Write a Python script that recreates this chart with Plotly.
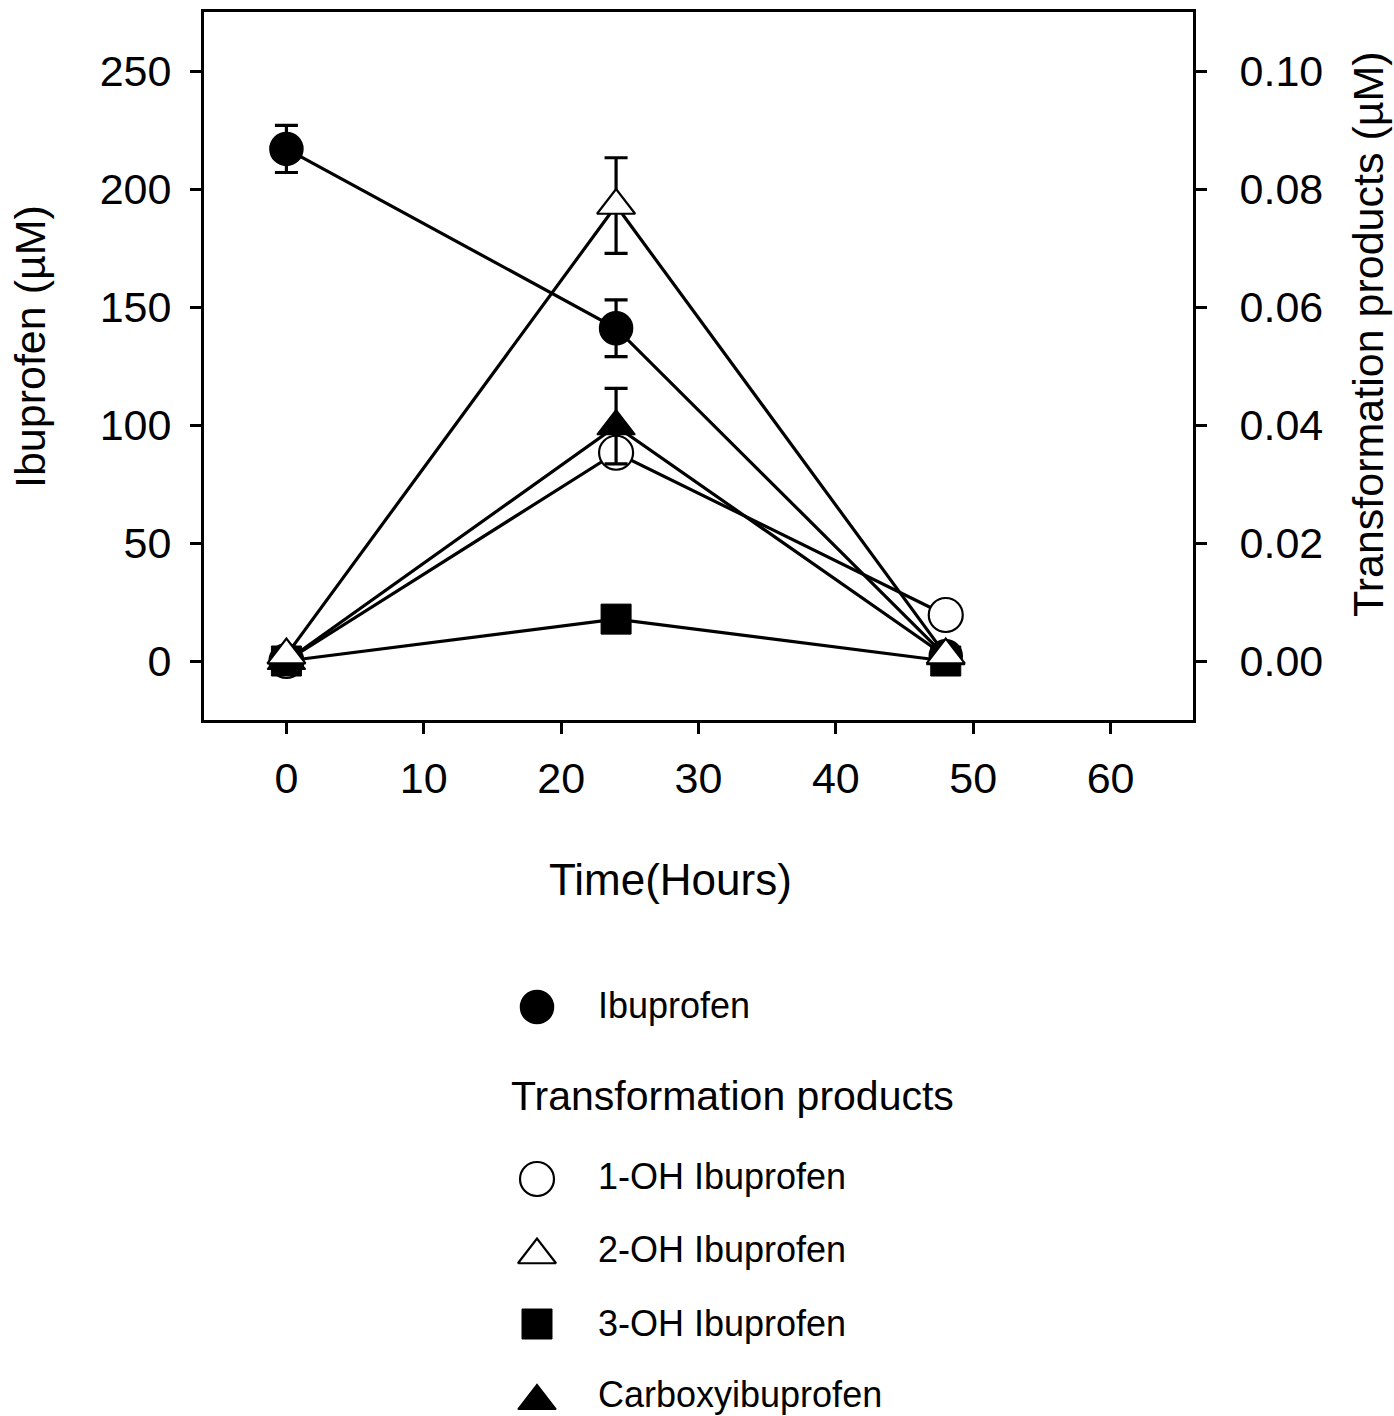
import plotly.graph_objects as go

# ---------------- data ----------------
time_h = [0, 24, 48]

ibuprofen = [217, 141, 2]          # µM (left axis)
ibuprofen_err = [10, 12, 0]

oh1 = [0.0, 0.0353, 0.0078]        # µM (right axis)
oh2 = [0.001, 0.0772, 0.001]
oh2_err = [0, 0.0081, 0]
oh3 = [0.0, 0.0071, 0.0]
carboxy = [0.0, 0.0398, 0.0008]
carboxy_err = [0, 0.0064, 0]

x_ticks = [0, 10, 20, 30, 40, 50, 60]
y_ticks = [0, 50, 100, 150, 200, 250]
y2_ticks = [0.00, 0.02, 0.04, 0.06, 0.08, 0.10]
y2_ticklabels = ["0.00", "0.02", "0.04", "0.06", "0.08", "0.10"]

series_names = ["Ibuprofen", "1-OH Ibuprofen", "2-OH Ibuprofen", "3-OH Ibuprofen", "Carboxyibuprofen"]
group_title = "Transformation products"
x_title = "Time(Hours)"
y_title = "Ibuprofen (µM)"
y2_title = "Transformation products (µM)"

# ---------------- styling / layout ----------------
W, H = 1394, 1416
PL, PR, PT, PB = 204, 1193, 12, 720     # plot frame in pixels
FONT = "Liberation Sans, Arial, sans-serif"
TICK_SIZE = 43
LW = 3.2

styles = {
    "Ibuprofen": dict(symbol="circle", size=33, color="black", line=dict(color="black", width=1.5)),
    "1-OH Ibuprofen": dict(symbol="circle", size=34, color="white", line=dict(color="black", width=2.2)),
    "2-OH Ibuprofen": dict(symbol="triangle-up", size=33, color="white", line=dict(color="black", width=2.2)),
    "3-OH Ibuprofen": dict(symbol="square", size=30, color="black", line=dict(color="black", width=1)),
    "Carboxyibuprofen": dict(symbol="triangle-up", size=33, color="black", line=dict(color="black", width=1.5)),
}

fig = go.Figure()

def err(arr):
    return dict(type="data", array=arr, visible=True, color="black", thickness=3.2, width=11.5)

# Ibuprofen on left axis
fig.add_trace(go.Scatter(x=time_h, y=ibuprofen, mode="lines+markers", name=series_names[0],
                         line=dict(color="black", width=LW), marker=styles[series_names[0]],
                         error_y=err(ibuprofen_err), xaxis="x", yaxis="y", showlegend=False))

# transformation products on right axis (order = stacking order)
tp = [
    (series_names[1], oh1, None),
    (series_names[3], oh3, None),
    (series_names[4], carboxy, carboxy_err),
    (series_names[2], oh2, oh2_err),
]
for nm, vals, e in tp:
    fig.add_trace(go.Scatter(x=time_h, y=vals, mode="lines+markers", name=nm,
                             line=dict(color="black", width=LW), marker=styles[nm],
                             error_y=err(e) if e is not None else None,
                             xaxis="x", yaxis="y2", showlegend=False))

# ---------------- custom legend on a full-figure pixel axis ----------------
leg_marker_x = 537
leg_text_x = 596
leg_rows = {  # marker y, text y (pixels)
    "Ibuprofen": (1007, 1005),
    "1-OH Ibuprofen": (1179, 1176),
    "2-OH Ibuprofen": (1255, 1249),
    "3-OH Ibuprofen": (1324, 1323),
    "Carboxyibuprofen": (1401, 1394),
}
for nm in series_names:
    my, ty = leg_rows[nm]
    fig.add_trace(go.Scatter(x=[leg_marker_x], y=[my], mode="markers", marker=styles[nm],
                             xaxis="x3", yaxis="y3", showlegend=False, hoverinfo="skip"))

annotations = []
for nm in series_names:
    my, ty = leg_rows[nm]
    annotations.append(dict(x=leg_text_x, y=ty, xref="x3", yref="y3", text=nm, showarrow=False,
                            xanchor="left", yanchor="middle", font=dict(family=FONT, size=36, color="black")))
annotations.append(dict(x=509, y=1096, xref="x3", yref="y3", text=group_title, showarrow=False,
                        xanchor="left", yanchor="middle", font=dict(family=FONT, size=41, color="black")))
# axis titles
annotations.append(dict(x=670, y=879, xref="x3", yref="y3", text=x_title, showarrow=False,
                        xanchor="center", yanchor="middle", font=dict(family=FONT, size=44, color="black")))
annotations.append(dict(x=30, y=347, xref="x3", yref="y3", text=y_title, showarrow=False, textangle=-90,
                        xanchor="center", yanchor="middle", font=dict(family=FONT, size=43, color="black")))
annotations.append(dict(x=1368, y=334, xref="x3", yref="y3", text=y2_title, showarrow=False, textangle=-90,
                        xanchor="center", yanchor="middle", font=dict(family=FONT, size=43, color="black")))

axis_common = dict(showline=True, linecolor="black", linewidth=3, ticks="outside", ticklen=11,
                   tickwidth=3, tickcolor="black", showgrid=False, zeroline=False,
                   tickfont=dict(family=FONT, size=TICK_SIZE, color="black"))

fig.update_layout(
    width=W, height=H, margin=dict(l=0, r=0, t=0, b=0),
    paper_bgcolor="white", plot_bgcolor="rgba(0,0,0,0)",
    showlegend=False,
    xaxis=dict(domain=[PL / W, PR / W], range=[-6, 66], tickvals=x_ticks, mirror=True,
               anchor="y", ticklabelstandoff=7, **axis_common),
    yaxis=dict(domain=[1 - PB / H, 1 - PT / H], range=[-25, 275], tickvals=y_ticks,
               anchor="x", ticklabelstandoff=10, **axis_common),
    yaxis2=dict(overlaying="y", side="right", anchor="x", range=[-0.01, 0.11], tickvals=y2_ticks,
                ticktext=y2_ticklabels, ticklabelstandoff=24, **axis_common),
    xaxis3=dict(domain=[0, 1], range=[0, W], visible=False, showgrid=False, zeroline=False, fixedrange=True),
    yaxis3=dict(domain=[0, 1], range=[H, 0], visible=False, showgrid=False, zeroline=False, fixedrange=True,
                anchor="x3"),
    annotations=annotations,
)

fig.write_html("out.html")
